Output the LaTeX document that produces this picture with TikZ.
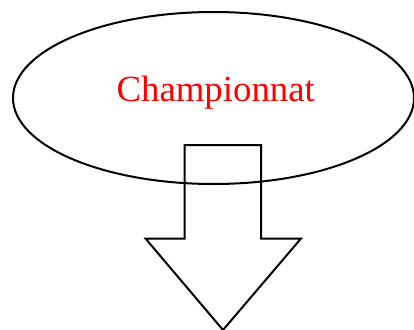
\documentclass[tikz,border=0pt]{standalone}
\usepackage{fontspec}
\setmainfont{Liberation Serif}
\begin{document}
\begin{tikzpicture}[x=1pt,y=-1pt,
  outline/.style={draw=black,line width=2pt,line join=miter},
  label/.style={text=red,font=\fontsize{36.8}{44}\selectfont,inner sep=0pt}]
\useasboundingbox (0,0) rectangle (414,329);
\draw[outline] (213.5,98) ellipse [x radius=200.5, y radius=86];
\node[label,anchor=base] (title) at (215.7,101) {Championnat};
\draw[outline] (184.5,145) coordinate (a1) -- (261,145) -- (261,238.5) -- (301,238.5) -- (223,330) -- (145.5,238.5) -- (184.5,238.5) -- cycle;
\end{tikzpicture}
\end{document}
